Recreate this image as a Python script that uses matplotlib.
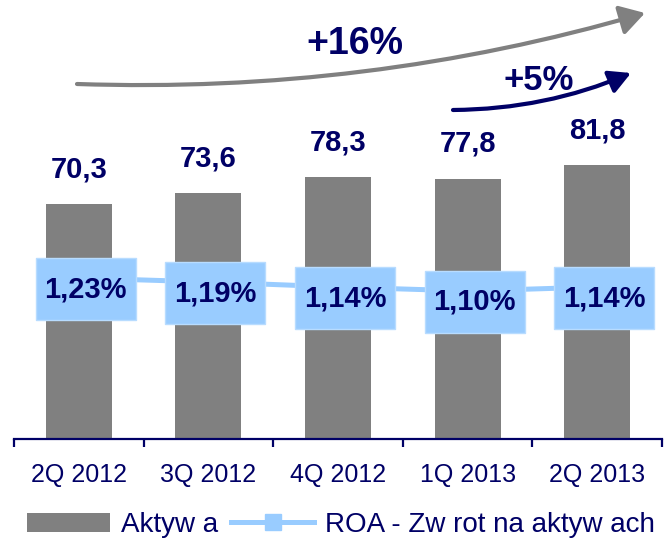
import numpy as np
import matplotlib.pyplot as plt
from matplotlib.patches import Rectangle, FancyArrowPatch
from matplotlib.transforms import ScaledTranslation

plt.rcParams['font.family'] = ['Liberation Sans', 'DejaVu Sans']

quarters = ['2Q 2012', '3Q 2012', '4Q 2012', '1Q 2013', '2Q 2013']
aktywa = [70.3, 73.6, 78.3, 77.8, 81.8]
roa = [1.23, 1.19, 1.14, 1.10, 1.14]

navy = '#000066'
grey = '#808080'
light_blue = '#99CCFF'

fig = plt.figure(figsize=(6.64, 5.38), dpi=100)
ax = fig.add_axes([14 / 664, 99 / 538, 648 / 664, 439 / 538])

x = np.arange(len(quarters))
ax.bar(x, aktywa, width=0.51, color=grey, zorder=1)
ax.set_xlim(-0.5, len(quarters) - 0.5)
ax.set_ylim(0, 131.2)

for i, v in enumerate(aktywa):
    ax.annotate(f'{v:.1f}'.replace('.', ','), (i, v), xytext=(0, 25),
                textcoords='offset points', ha='center', va='center',
                fontsize=21, fontweight='bold', color=navy)

for s in ['top', 'left', 'right']:
    ax.spines[s].set_visible(False)
ax.spines['bottom'].set_color(navy)
ax.spines['bottom'].set_linewidth(1.6)
ax.set_yticks([])
ax.set_xticks(np.arange(len(quarters) + 1) - 0.5)
ax.set_xticklabels([])
ax.tick_params(axis='x', which='major', length=6, width=1.6, color=navy)
ax.set_xticks(x, minor=True)
ax.set_xticklabels(quarters, minor=True)
ax.tick_params(axis='x', which='minor', length=0, pad=17, labelsize=18,
               labelcolor=navy)

# ROA line on its own scale
ax2 = ax.twinx()
ax2.set_ylim(-0.38, 4.01)
ax2.axis('off')
ax2.plot(x, roa, color=light_blue, lw=3.6, zorder=2)

for i, v in enumerate(roa):
    tr = fig.dpi_scale_trans + ScaledTranslation(i, v, ax2.transData)
    ax2.add_patch(Rectangle((-0.43, -0.42), 1.0, 0.62, transform=tr,
                            facecolor=light_blue, edgecolor='#b8dcff',
                            lw=1, zorder=3))
    ax2.text(0.07, -0.11, f'{v:.2f}%'.replace('.', ','), transform=tr,
             ha='center', va='center', fontsize=21, fontweight='bold',
             color=navy, zorder=4)

# growth arrows
fig.add_artist(FancyArrowPatch((77 / 664, 1 - 84 / 538), (645 / 664, 1 - 13 / 538),
                               transform=fig.transFigure,
                               connectionstyle='arc3,rad=0.08',
                               arrowstyle='-|>,head_length=15,head_width=9',
                               mutation_scale=1, lw=3, color=grey,
                               shrinkA=0, shrinkB=0))
fig.add_artist(FancyArrowPatch((453 / 664, 1 - 110 / 538), (631 / 664, 1 - 73 / 538),
                               transform=fig.transFigure,
                               connectionstyle='arc3,rad=0.1',
                               arrowstyle='-|>,head_length=13,head_width=7',
                               mutation_scale=1, lw=3, color=navy,
                               shrinkA=0, shrinkB=0))
fig.text(355 / 664, 1 - 44 / 538, '+16%', ha='center', va='center',
         fontsize=27, fontweight='bold', color=navy)
fig.text(539 / 664, 1 - 80 / 538, '+5%', ha='center', va='center',
         fontsize=25, fontweight='bold', color=navy)

# legend
h_bar = Rectangle((0, 0), 1, 1, facecolor=grey)
h_line, = ax.plot([], [], color=light_blue, lw=3.6, marker='s',
                  markersize=11, markerfacecolor=light_blue,
                  markeredgecolor=light_blue)
fig.legend([h_bar, h_line], ['Aktyw a', 'ROA - Zw rot na aktyw ach'],
           loc='center', bbox_to_anchor=(341 / 664, 13 / 538), ncol=2,
           frameon=False, fontsize=20, labelcolor=navy, handlelength=3.0,
           handleheight=0.7, handletextpad=0.4, columnspacing=0.45,
           borderpad=0, borderaxespad=0)

fig.savefig('out.png', dpi=100)
